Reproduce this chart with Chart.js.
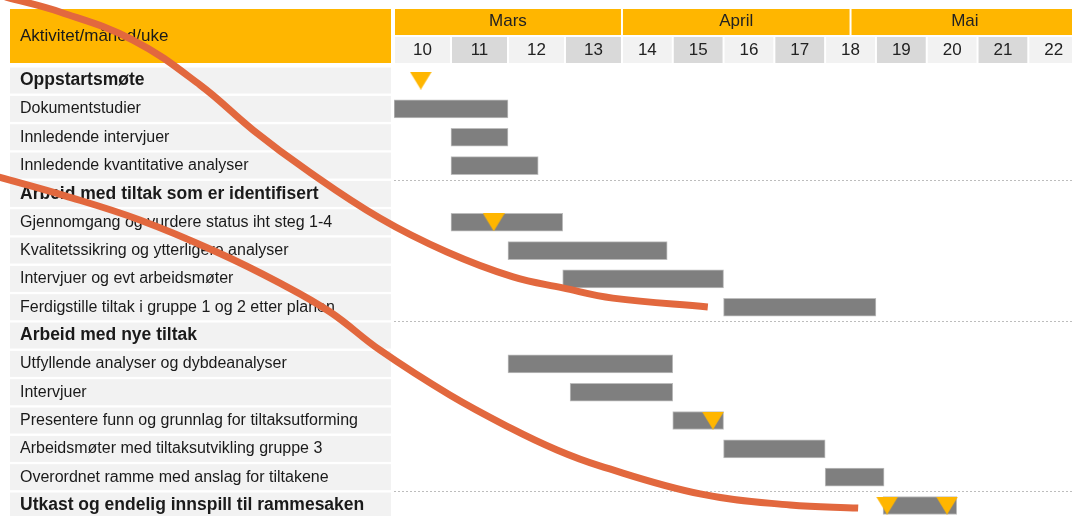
<!DOCTYPE html>
<html>
<head>
<meta charset="utf-8">
<title>Fremdriftsplan</title>
<script src="https://cdn.jsdelivr.net/npm/chart.js@4.4.1/dist/chart.umd.min.js"></script>
<style>
  html, body { margin: 0; padding: 0; background: #fff; overflow: hidden; }
  canvas { display: block; }
</style>
</head>
<body>
<canvas id="gantt" width="1072" height="522"></canvas>
<script>
// --- data ---
const activities = [
  'Oppstartsmøte',
  'Dokumentstudier',
  'Innledende intervjuer',
  'Innledende kvantitative analyser',
  'Arbeid med tiltak som er identifisert',
  'Gjennomgang og vurdere status iht steg 1-4',
  'Kvalitetssikring og ytterligere analyser',
  'Intervjuer og evt arbeidsmøter',
  'Ferdigstille tiltak i gruppe 1 og 2 etter planen',
  'Arbeid med nye tiltak',
  'Utfyllende analyser og dybdeanalyser',
  'Intervjuer',
  'Presentere funn og grunnlag for tiltaksutforming',
  'Arbeidsmøter med tiltaksutvikling gruppe 3',
  'Overordnet ramme med anslag for tiltakene',
  'Utkast og endelig innspill til rammesaken'
];
const sectionRows = [0, 4, 9, 15];

// start / end in week numbers (null = no bar)
const barStart = [null, 10, 11, 11, null, 11, 12, 12.96, 16, null, 12, 13.09, 15, 16, 18, 19.14];
const barEnd   = [null, 12, 12, 12.53, null, 12.96, 14.89, 16, 19, null, 15, 15, 16, 18, 19.16, 20.59];

// milestones (triangles)
const milestoneRows  = [0, 5, 12, 15, 15];
const milestoneWeeks = [10.47, 11.75, 15.79, 19.22, 20.4];

const weeks = [10, 11, 12, 13, 14, 15, 16, 17, 18, 19, 20, 21, 22];
const months = ['Mars', 'April', 'Mai'];
const monthStart = [10, 14, 18.5];
const monthEnd = [14, 18.5, 23];

// hand drawn strokes over the plan (week, row)
const strokeAWeeks = [3.18, 4.14, 5.42, 6.6, 7.53, 8.47, 9.75, 10.93, 12.09, 12.96, 13.84, 15.69];
const strokeARows  = [-2.95, -2.42, -1.43, 0.16, 1.75, 3.16, 4.85, 6.05, 6.93, 7.32, 7.68, 7.99];
const strokeBWeeks = [3.0, 4.23, 5.54, 6.89, 8.0, 8.88, 9.75, 10.98, 12.04, 12.86, 13.61, 15.54, 17.31, 18.65];
const strokeBRows  = [3.37, 4.07, 4.92, 6.05, 7.15, 8.17, 9.51, 11.1, 12.26, 13.04, 13.6, 14.59, 14.98, 15.09];

// --- look ---
const ORANGE = '#ffb600';
const STROKE = '#e2683e';
const WEEK_MIN = 10, WEEK_MAX = 22.86;
const APRIL_WEEK = 14;
const MARCH_WEIGHT = 57 / 50.8;   // March columns are wider in the plan

Chart.defaults.font.family = '"Liberation Sans", Arial, Helvetica, sans-serif';
Chart.defaults.color = '#1a1a1a';

// linear week scale where the March weeks get wider columns
class WeekScale extends Chart.LinearScale {
  unitOf(v) { return v < APRIL_WEEK ? (v - APRIL_WEEK) * MARCH_WEIGHT : v - APRIL_WEEK; }
  getPixelForValue(v) {
    if (v === null || v === undefined || isNaN(v)) return NaN;
    const a = this.unitOf(this.min), b = this.unitOf(this.max);
    return this.getPixelForDecimal((this.unitOf(v) - a) / (b - a));
  }
  getValueForPixel(p) {
    const a = this.unitOf(this.min), b = this.unitOf(this.max);
    const u = a + this.getDecimalForPixel(p) * (b - a);
    return u < 0 ? APRIL_WEEK + u / MARCH_WEIGHT : APRIL_WEEK + u;
  }
}
WeekScale.id = 'week';
WeekScale.defaults = Chart.LinearScale.defaults;
Chart.register(WeekScale);

const tri = document.createElement('canvas');
tri.width = 22; tri.height = 18;
const tctx = tri.getContext('2d');
tctx.fillStyle = ORANGE;
tctx.beginPath(); tctx.moveTo(0, 0); tctx.lineTo(22, 0); tctx.lineTo(11, 18); tctx.closePath(); tctx.fill();

const backdrop = {
  id: 'backdrop',
  beforeDraw(chart) {
    const { ctx, chartArea: area } = chart;
    const x = chart.scales.x, y = chart.scales.y;
    ctx.save();
    // header
    ctx.fillStyle = ORANGE;
    ctx.fillRect(10, 9, 381, 54);
    months.forEach((m, i) => {
      const l = x.getPixelForValue(monthStart[i]), r = x.getPixelForValue(monthEnd[i]);
      ctx.fillRect(l + 1, 9, r - l - 2, 26);
    });
    weeks.forEach(w => {
      const l = x.getPixelForValue(w), r = x.getPixelForValue(w + 1);
      ctx.fillStyle = w % 2 ? '#d9d9d9' : '#f2f2f2';
      ctx.fillRect(l + 1, 37, r - l - 2, 26);
    });
    // label bands
    ctx.fillStyle = '#f2f2f2';
    activities.forEach((a, i) => {
      const c = y.getPixelForValue(i);
      ctx.fillRect(10, c - 13, 381, 26);
    });
    // section separators
    ctx.strokeStyle = '#bdbdbd';
    ctx.lineWidth = 1;
    ctx.setLineDash([2, 2]);
    sectionRows.slice(1).forEach(r => {
      const yy = Math.round(y.getPixelForValue(r - 0.5)) + 0.5;
      ctx.beginPath(); ctx.moveTo(area.left, yy); ctx.lineTo(area.right, yy); ctx.stroke();
    });
    ctx.setLineDash([]);
    ctx.fillStyle = '#1a1a1a';
    ctx.font = '17px "Liberation Sans", Arial, sans-serif';
    ctx.textBaseline = 'middle';
    ctx.fillText('Aktivitet/måned/uke', 20, 36);
    ctx.restore();
  }
};

const strokeStyle = {
  type: 'line', indexAxis: 'x', xAxisID: 'x', yAxisID: 'y',
  borderColor: STROKE, borderWidth: 7, borderCapStyle: 'butt',
  pointRadius: 0, tension: 0.4, capBezierPoints: false, clip: false, fill: false, order: 0
};

const noPad = s => { s.paddingLeft = 0; s.paddingRight = 0; s.paddingTop = 0; s.paddingBottom = 0; };

new Chart(document.getElementById('gantt'), {
  type: 'bar',
  data: {
    datasets: [
      Object.assign({ label: 'A', data: strokeAWeeks.map((w, i) => ({ x: w, y: strokeARows[i] })) }, strokeStyle),
      Object.assign({ label: 'B', data: strokeBWeeks.map((w, i) => ({ x: w, y: strokeBRows[i] })) }, strokeStyle),
      {
        type: 'line', label: 'Milepæl', indexAxis: 'x', xAxisID: 'x', yAxisID: 'y',
        data: milestoneWeeks.map((w, i) => ({ x: w, y: milestoneRows[i] })),
        showLine: false, pointStyle: tri, pointRadius: 11, clip: false, order: 1
      },
      {
        label: 'Aktivitet', xAxisID: 'x', yAxisID: 'y',
        data: activities.map((a, i) => barStart[i] == null ? null : { x: [barStart[i], barEnd[i]], y: i }).filter(d => d),
        backgroundColor: '#7f7f7f', borderColor: '#bdbdbd', borderWidth: 1, borderSkipped: false,
        grouped: false, barThickness: 18, order: 2
      }
    ]
  },
  options: {
    indexAxis: 'y',
    responsive: false,
    animation: false,
    events: [],
    layout: { autoPadding: false, padding: { top: 9, left: 20, right: 0, bottom: 2.3 } },
    plugins: { legend: { display: false }, tooltip: { enabled: false } },
    scales: {
      x: {
        type: 'week', position: 'top', bounds: 'data', weight: 0,
        grid: { display: false, drawTicks: false }, border: { display: false },
        afterDataLimits: s => { s.min = WEEK_MIN; s.max = WEEK_MAX; },
        afterBuildTicks: s => { s.ticks = weeks.map(w => ({ value: w + 0.5 })); },
        afterFit: s => { s.height = 29.4; noPad(s); },
        ticks: { autoSkip: false, maxRotation: 0, padding: 6, font: { size: 17 }, color: '#222',
          callback: (v, i) => String(weeks[i]) }
      },
      xm: {
        type: 'week', position: 'top', bounds: 'data', weight: 1,
        grid: { display: false, drawTicks: false }, border: { display: false },
        afterDataLimits: s => { s.min = WEEK_MIN; s.max = WEEK_MAX; },
        afterBuildTicks: s => { s.ticks = months.map((m, i) => ({ value: (monthStart[i] + monthEnd[i]) / 2 })); },
        afterFit: s => { s.height = 28; noPad(s); },
        ticks: { autoSkip: false, maxRotation: 0, padding: 5, font: { size: 17 }, color: '#222',
          callback: (v, i) => months[i] }
      },
      y: {
        type: 'linear', position: 'left', min: -0.5, max: 15.5, reverse: true, offset: false,
        grid: { display: false, drawTicks: false }, border: { display: false },
        afterBuildTicks: s => { s.ticks = activities.map((a, i) => ({ value: i })); },
        afterFit: s => { s.width = 374; noPad(s); },
        ticks: {
          autoSkip: false, crossAlign: 'far', color: '#1a1a1a',
          callback: (v, i) => activities[i],
          font: c => sectionRows.includes(c.index) ? { size: 17.5, weight: 'bold' } : { size: 16 }
        }
      }
    }
  },
  plugins: [backdrop]
});
</script>
</body>
</html>
